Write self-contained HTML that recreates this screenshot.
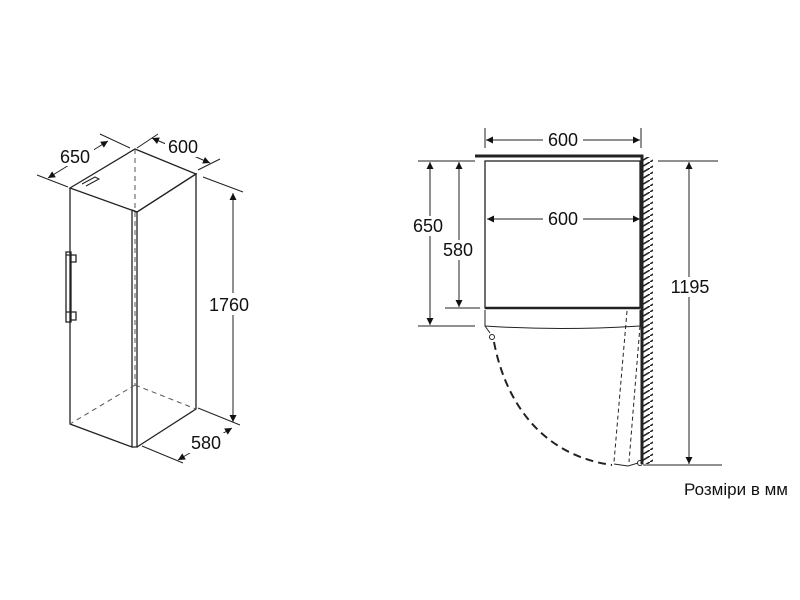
<!DOCTYPE html>
<html><head><style>body{margin:0;background:#fff}svg{display:block}</style></head><body>
<svg width="800" height="600" viewBox="0 0 800 600" xmlns="http://www.w3.org/2000/svg" font-family="Liberation Sans, sans-serif" font-size="18" fill="none" stroke="#222">
<defs>
<marker id="a" viewBox="0 0 10 10" refX="10" refY="5" markerWidth="9" markerHeight="7" orient="auto-start-reverse" markerUnits="userSpaceOnUse"><path d="M0,0L10,5L0,10z" fill="#111" stroke="none"/></marker>
<pattern id="h" width="10" height="6" patternUnits="userSpaceOnUse"><path d="M0,6L10,0" stroke="#222" stroke-width="1.6"/></pattern>
</defs>
<g stroke-width="1.3">
<path d="M70,188 L135,149 L196,174 L137,212 Z"/>
<path d="M70,188 L70,424 L132,447 L132,210"/>
<path d="M132,210 L137,212 L137,447 L132,447"/>
<path d="M137,212 L196,174 L196,409 L137,447"/>
<path d="M82,184 L95,177 L99,179 L86,186" stroke-width="1"/>
<rect x="66" y="252" width="5" height="70"/>
<path d="M66,255 L76,255 L76,262 L71,262 M66,312 L76,312 L76,320 L71,320"/>
</g>
<g stroke-dasharray="5,4" stroke-width="1" stroke="#555">
<path d="M135,149 L135,385 M135,385 L70,424 M135,385 L196,409"/>
</g>
<g stroke-width="1">
<path d="M37,175 L68,187 M100,134 L130,148 M137,148 L158,134 M198,170 L220,159 M203,177 L243,192 M198,408 L240,425 M142,446 L183,463"/>
<path d="M48,178 L108,141" marker-start="url(#a)" marker-end="url(#a)"/>
<path d="M152,138 L210,163" marker-start="url(#a)" marker-end="url(#a)"/>
<path d="M233,193 L233,422" marker-start="url(#a)" marker-end="url(#a)"/>
<path d="M178,460 L232,428" marker-start="url(#a)" marker-end="url(#a)"/>
</g>
<g fill="#111" stroke="none" text-anchor="middle">
<rect x="58" y="146" width="36" height="20" fill="#fff"/><text x="75" y="163">650</text>
<rect x="165" y="137" width="36" height="20" fill="#fff"/><text x="183" y="153">600</text>
<rect x="208" y="293" width="44" height="22" fill="#fff"/><text x="229" y="311">1760</text>
<rect x="188" y="433" width="36" height="20" fill="#fff"/><text x="206" y="449">580</text>
</g>
<g stroke-width="1">
<path d="M485,128 L485,148 M641,128 L641,148"/>
<path d="M486,140 L640,140" marker-start="url(#a)" marker-end="url(#a)"/>
<path d="M475,156 L642,156 L642,464" stroke-width="3"/>
<rect x="643" y="157" width="10" height="307" fill="url(#h)" stroke="none"/>
<rect x="485" y="161" width="155" height="147" stroke-width="1.3"/>
<path d="M485,308 L640,308" stroke-width="2.5"/>
<path d="M485,310 L485,326 Q560,331 640,326 L640,310"/>
<path d="M487,219 L640,219" marker-start="url(#a)" marker-end="url(#a)"/>
<path d="M418,161 L475,161 M418,326 L475,326 M445,308 L480,308 M658,161 L718,161 M643,465 L722,465"/>
<path d="M430,162 L430,325" marker-start="url(#a)" marker-end="url(#a)"/>
<path d="M459,162 L459,307" marker-start="url(#a)" marker-end="url(#a)"/>
<path d="M689,162 L689,464" marker-start="url(#a)" marker-end="url(#a)"/>
<path d="M485,326 L490,333"/>
<circle cx="492" cy="337" r="2.5"/>
<circle cx="640" cy="463" r="2.5"/>
<path d="M494,342 C505,400 540,455 612,465" stroke-width="2" stroke-dasharray="8,5"/>
<path d="M627,311 L614,462 M640,326 L629,462" stroke-dasharray="4,3"/>
<path d="M614,464 L628,466 L638,463"/>
</g>
<g fill="#111" stroke="none" text-anchor="middle">
<rect x="543" y="130" width="40" height="20" fill="#fff"/><text x="563" y="146">600</text>
<rect x="543" y="209" width="40" height="20" fill="#fff"/><text x="563" y="225">600</text>
<rect x="410" y="216" width="38" height="20" fill="#fff"/><text x="428" y="232">650</text>
<rect x="440" y="240" width="38" height="20" fill="#fff"/><text x="458" y="256">580</text>
<rect x="666" y="277" width="48" height="20" fill="#fff"/><text x="690" y="293">1195</text>
<text x="736" y="495" font-size="17">Розміри в мм</text>
</g>
</svg>
</body></html>
